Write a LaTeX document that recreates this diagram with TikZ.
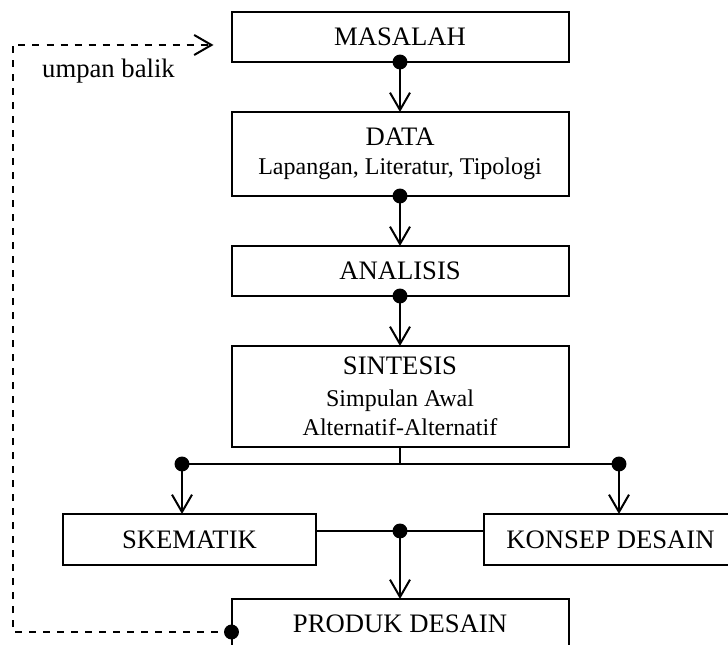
\documentclass[tikz,border=0pt]{standalone}
\usepackage{fontspec}
\setmainfont{Liberation Serif}
\usetikzlibrary{positioning,arrows.meta}

\newcommand{\subfont}{\fontsize{18}{20}\selectfont}

\tikzset{
  box/.style={draw, line width=1.5pt, minimum width=252.75pt, align=center,
    inner sep=0pt, outer sep=0pt, font=\fontsize{20}{22}\selectfont},
  link/.style={line width=1.5pt, -{Straight Barb[length=13pt,width=15pt]}},
  feedback/.style={link, dash pattern=on 5.25pt off 5.25pt},
}

\begin{document}
\begin{tikzpicture}[x=0.75pt, y=-0.75pt, node distance=37.5pt]
  \useasboundingbox (0,0) rectangle (728,645);
  \node (masalah) [box, minimum height=37.5pt] at (400,37) {MASALAH};
  \node (data) [box, minimum height=63pt, below=of masalah] {DATA\\ \subfont Lapangan, Literatur, Tipologi};
  \node (analisis) [box, minimum height=37.5pt, below=of data] {ANALISIS};
  \node (sintesis) [box, minimum height=75.75pt, below=of analisis] {SINTESIS\\[2pt] \subfont Simpulan Awal\\ \subfont Alternatif-Alternatif};
  \node (skematik) [box, minimum width=189.75pt, minimum height=38.25pt, below=50.25pt of sintesis, xshift=-157.9pt] {SKEMATIK};
  \node (konsep) [box, minimum width=189.75pt, minimum height=38.25pt, right=126pt of skematik] {KONSEP DESAIN};
  \node (produk) [box, minimum height=37.5pt, below=25.5pt of skematik, xshift=157.9pt] {PRODUK DESAIN};
  \node (balik) [font=\fontsize{20}{22}\selectfont] at (108.5,71) {umpan balik};

  % main column
  \draw[link] (masalah) -- (data);
  \draw[link] (data) -- (analisis);
  \draw[link] (analisis) -- (sintesis);
  \fill (masalah.south) circle (5.6pt);
  \fill (data.south) circle (5.6pt);
  \fill (analisis.south) circle (5.6pt);

  % split to skematik and konsep
  \coordinate (split) at ([yshift=-12.75pt]sintesis.south);
  \coordinate (inL) at ([xshift=-5.6pt]skematik.north);
  \coordinate (inR) at ([xshift=6.4pt]konsep.north);
  \draw[line width=1.5pt] (sintesis.south) -- (split);
  \draw[line width=1.5pt] (inL |- split) -- (inR |- split);
  \draw[link] (inL |- split) -- (inL);
  \draw[link] (inR |- split) -- (inR);
  \fill (inL |- split) circle (5.6pt);
  \fill (inR |- split) circle (5.6pt);

  % join into produk
  \coordinate (joinS) at ([yshift=6.4pt]skematik.east);
  \draw[line width=1pt] (joinS) -- (joinS -| konsep.west);
  \draw[link] (joinS -| produk.north) -- (produk.north);
  \fill (joinS -| produk.north) circle (5.6pt);

  % feedback loop
  \coordinate (fbout) at ([yshift=-6pt]produk.west);
  \coordinate (fbin) at ([xshift=-13.5pt,yshift=-6pt]masalah.west);
  \draw[feedback] (fbout) -- ++(-164.25pt,0) |- (fbin);
  \fill (fbout) circle (5.6pt);
\end{tikzpicture}
\end{document}
